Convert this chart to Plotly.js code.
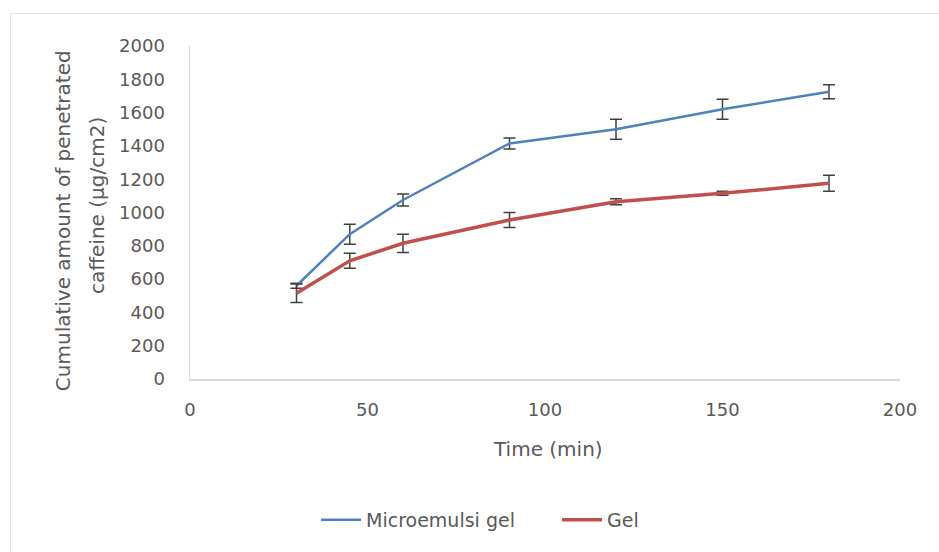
<!DOCTYPE html>
<html>
<head>
<meta charset="utf-8">
<script src="https://cdn.plot.ly/plotly-3.0.1.min.js"></script>
<style>
  html, body { margin: 0; padding: 0; background: #fff; }
  #wrap { position: relative; width: 939px; height: 552px; overflow: hidden; }
  #frame { position: absolute; left: 10px; top: 13px; width: 960px; height: 600px;
           border-left: 1px solid #e3e3e3; border-top: 1px solid #e3e3e3; pointer-events: none; }
  #chart { position: absolute; left: 0; top: 0; width: 939px; height: 552px; }
</style>
</head>
<body>
<div id="wrap">
  <div id="chart"></div>
  <div id="frame"></div>
</div>
<script>
const time = [30, 45, 60, 90, 120, 150, 180];
const microValues = [560, 870, 1075, 1415, 1500, 1620, 1725];
const microErrors = [15, 60, 36, 33, 60, 60, 42];
const gelValues = [515, 710, 815, 955, 1065, 1115, 1175];
const gelErrors = [55, 45, 55, 45, 18, 12, 48];
const seriesNames = ["Microemulsi gel", "Gel"];
const xTicks = [0, 50, 100, 150, 200];
const yTicks = [0, 200, 400, 600, 800, 1000, 1200, 1400, 1600, 1800, 2000];
const xTitle = "Time (min)";
const yTitleLines = ["Cumulative amount of penetrated", "caffeine (µg/cm2)"];

const font = "'DejaVu Sans', sans-serif";
const grey = "#595959";

const traces = [
  {
    x: time, y: microValues, name: seriesNames[0], type: "scatter", mode: "lines",
    line: { color: "#4F81BD", width: 2.5 },
    error_y: { type: "data", array: microErrors, visible: true, color: "#404040", thickness: 1.5, width: 6 }
  },
  {
    x: time, y: gelValues, name: seriesNames[1], type: "scatter", mode: "lines",
    line: { color: "#C0504D", width: 3.5 },
    error_y: { type: "data", array: gelErrors, visible: true, color: "#404040", thickness: 1.5, width: 6 }
  }
];

const layout = {
  width: 939, height: 552,
  margin: { l: 190, r: 39, t: 46, b: 173 },
  paper_bgcolor: "rgba(0,0,0,0)", plot_bgcolor: "#fff",
  font: { family: font, color: grey, size: 18 },
  showlegend: true,
  legend: { orientation: "h", x: 0.1775, xanchor: "left", y: -0.4234, yanchor: "middle",
            entrywidth: 186, entrywidthmode: "pixels",
            font: { family: font, color: grey, size: 19 }, itemwidth: 40, tracegroupgap: 0 },
  xaxis: {
    range: [0, 200], tickvals: xTicks, ticktext: xTicks.map(String), automargin: false,
    showgrid: false, zeroline: false, showline: true, linecolor: "#d9d9d9", linewidth: 1.5,
    ticks: "outside", ticklen: 14, tickcolor: "rgba(0,0,0,0)",
    tickfont: { family: font, size: 18, color: grey }
  },
  yaxis: {
    range: [0, 2000], tickvals: yTicks, ticktext: yTicks.map(String), automargin: false,
    showgrid: false, zeroline: false, showline: true, linecolor: "#d9d9d9", linewidth: 1.5,
    ticks: "outside", ticklen: 20, tickcolor: "rgba(0,0,0,0)",
    tickfont: { family: font, size: 18, color: grey }
  },
  annotations: [
    { text: xTitle, xref: "paper", yref: "paper", x: 0.5045, y: -0.2096, xanchor: "center", yanchor: "middle",
      showarrow: false, font: { family: font, size: 20, color: grey } },
    { text: yTitleLines[0], xref: "paper", yref: "paper", x: -0.1789, y: 0.477, xanchor: "center", yanchor: "middle",
      textangle: -90, showarrow: false, font: { family: font, size: 20, color: grey } },
    { text: yTitleLines[1], xref: "paper", yref: "paper", x: -0.131, y: 0.5225, xanchor: "center", yanchor: "middle",
      textangle: -90, showarrow: false, font: { family: font, size: 20, color: grey } }
  ]
};

Plotly.newPlot("chart", traces, layout, { displayModeBar: false, staticPlot: true });
</script>
</body>
</html>
